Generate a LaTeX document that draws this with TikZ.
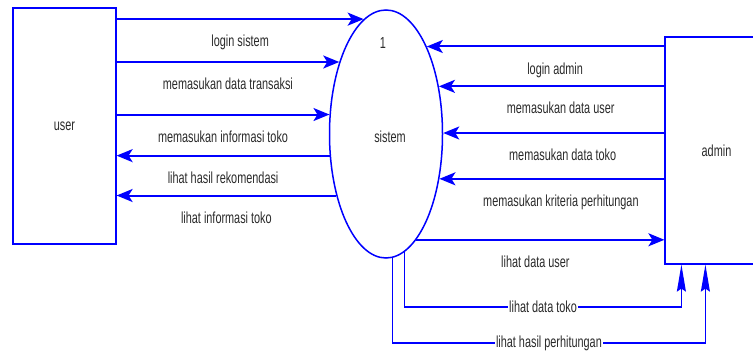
\documentclass[tikz,border=0pt]{standalone}
\usepackage{fontspec}
\setmainfont[FakeStretch=0.68]{Liberation Sans}
\usepackage{xcolor}
\definecolor{flowBlue}{HTML}{0000FF}
\definecolor{labelDark}{HTML}{2A2A2A}
\usepackage{tikz}
\usetikzlibrary{shapes,positioning,calc,arrows.meta}
\tikzset{%
  entityBox/.style={%
    rectangle,
    draw=flowBlue,
    line width=1.2pt,
    fill=white,
    minimum width=103pt,
    minimum height=236pt,
    inner sep=0pt,
    text=labelDark,
    font=\fontsize{16}{16}\selectfont
  },
  processOval/.style={%
    ellipse,
    draw=flowBlue,
    line width=1.5pt,
    minimum width=113pt,
    minimum height=248pt,
    inner sep=0pt
  },
  arrowLine/.style={%
    -{Stealth[length=16pt,width=13pt,inset=4pt]},
    line width=2pt,
    color=flowBlue
  },
  upLine/.style={%
    -{Stealth[length=27pt,width=9pt,inset=3pt]},
    line width=1.5pt,
    color=flowBlue
  },
  flowLabel/.style={%
    text=labelDark,
    inner sep=1pt,
    font=\fontsize{16}{16}\selectfont
  },
  cutLabel/.style={%
    flowLabel,
    fill=white
  }
}

\begin{document}
\begin{tikzpicture}[x=1pt,y=-1pt]
            \clip (0,0) rectangle (753,352);
            \node[entityBox] (user) at (64.5,126) {user};
            \node[entityBox, minimum height=227pt] (admin) at (716.5,150.5) {admin};
            \node[processOval] (sys) at (386,134) {};
            \node[flowLabel] (sysNum) at (383,43) {1};
            \node[flowLabel] (sysName) at (390,137) {sistem};

            % user side
            \draw[arrowLine] (user.east |- sys.101) -- (sys.101)
                node[flowLabel, midway, below=14pt] (lblLoginSis) {login sistem};
            \draw[arrowLine] (user.east |- sys.123) -- (sys.123)
                node[flowLabel, midway, below=14pt] (lblTransaksi) {memasukan data transaksi};
            \draw[arrowLine] (user.east |- sys.161) -- (sys.161)
                node[flowLabel, midway, below=14pt] (lblInfoToko) {memasukan informasi toko};
            \draw[arrowLine] (sys.201.6) -- (user.east |- sys.201.6)
                node[flowLabel, midway, below=14pt] (lblRekomendasi) {lihat hasil rekomendasi};
            \draw[arrowLine] (sys.231.7) -- (user.east |- sys.231.7)
                node[flowLabel, midway, below=14pt] (lblLihatToko) {lihat informasi toko};

            % admin side
            \draw[arrowLine] (admin.west |- sys.65.7) -- (sys.65.7)
                node[flowLabel, pos=0.46, below=14pt] (lblLoginAdm) {login admin};
            \draw[arrowLine] (admin.west |- sys.42.6) -- (sys.42.6)
                node[flowLabel, pos=0.46, below=14pt] (lblDataUser) {memasukan data user};
            \draw[arrowLine] (admin.west |- sys.1) -- (sys.1)
                node[flowLabel, pos=0.46, below=14pt] (lblDataToko) {memasukan data toko};
            \draw[arrowLine] (admin.west |- sys.320.2) -- (sys.320.2)
                node[flowLabel, pos=0.46, below=14pt] (lblKriteria) {memasukan kriteria perhitungan};
            \draw[arrowLine] (sys.286.5) -- (admin.west |- sys.286.5)
                node[flowLabel, pos=0.48, below=14pt] (lblLihatUser) {lihat data user};

            % bottom returns
            \coordinate (tokoIn) at ($(admin.south west)+(17,0)$);
            \coordinate (hitungIn) at ($(admin.south west)+(41,0)$);
            \draw[upLine] (sys.279.2) -- ++(0,55) -| (tokoIn)
                node[cutLabel, pos=0.25] (lblLihatDataToko) {lihat data toko};
            \draw[upLine] (sys.273.7) -- ++(0,85) -| (hitungIn)
                node[cutLabel, pos=0.25] (lblHitung) {lihat hasil perhitungan};
        \end{tikzpicture}
\end{document}
